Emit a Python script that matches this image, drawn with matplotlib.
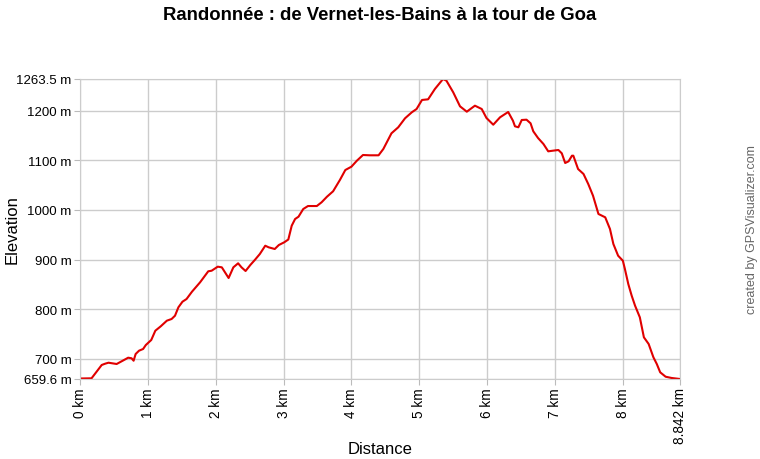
import numpy as np
import matplotlib.pyplot as plt

# profile (km, m)
dist_km = [0.00, 0.17, 0.32, 0.37, 0.42, 0.54, 0.64, 0.71, 0.76, 0.79, 0.82, 0.87, 0.93, 0.97,
           1.05, 1.11, 1.19, 1.28, 1.35, 1.40, 1.45, 1.51, 1.57, 1.65, 1.77, 1.89, 1.94,
           2.03, 2.09, 2.19, 2.26, 2.33, 2.38, 2.44, 2.51, 2.58, 2.65, 2.73, 2.78, 2.87, 2.93,
           3.01, 3.07, 3.12, 3.17, 3.22, 3.29, 3.36, 3.49, 3.56, 3.64, 3.73, 3.83, 3.91,
           4.00, 4.08, 4.17, 4.27, 4.40, 4.47, 4.59, 4.69, 4.79, 4.89, 4.96,
           5.04, 5.13, 5.23, 5.35, 5.40, 5.50, 5.60, 5.70, 5.82, 5.92, 5.99,
           6.09, 6.19, 6.31, 6.38, 6.41, 6.46, 6.51, 6.58, 6.64, 6.68, 6.75, 6.83, 6.90, 6.97,
           7.05, 7.10, 7.15, 7.20, 7.25, 7.27, 7.34, 7.42, 7.49, 7.56, 7.64, 7.74, 7.81, 7.86, 7.93,
           8.00, 8.03, 8.08, 8.13, 8.18, 8.25, 8.31, 8.38, 8.45, 8.50, 8.55, 8.63, 8.72, 8.842]
elev_m = [660.6, 661.0, 687.8, 690.4, 692.4, 689.8, 697.2, 702.5, 701.3, 696.4, 709.9, 716.6, 720.0, 728.0,
          738.1, 756.8, 765.7, 777.0, 780.4, 787.0, 803.9, 815.2, 820.6, 835.3, 854.3, 876.4, 877.6,
          885.7, 884.4, 862.9, 884.4, 892.5, 884.4, 877.0, 889.1, 899.8, 911.2, 927.9, 924.7, 921.3, 929.3,
          934.8, 940.4, 968.2, 981.7, 986.3, 1001.8, 1007.8, 1007.8, 1015.3, 1026.6, 1037.5, 1060.2, 1080.3,
          1087.0, 1099.0, 1110.5, 1109.9, 1109.9, 1122.6, 1154.2, 1166.3, 1184.4, 1196.5, 1203.1,
          1221.3, 1222.6, 1243.4, 1263.5, 1260.1, 1236.7, 1208.5, 1197.7, 1209.8, 1203.1, 1185.0,
          1171.5, 1186.4, 1197.1, 1179.6, 1168.3, 1166.3, 1181.0, 1181.6, 1174.3, 1158.2, 1144.7, 1132.6, 1117.9, 1119.2,
          1120.6, 1113.9, 1094.4, 1097.8, 1109.1, 1109.1, 1082.3, 1072.3, 1052.1, 1028.6, 991.8, 985.1, 961.6, 931.4, 907.8,
          897.7, 881.0, 850.8, 827.3, 807.1, 783.8, 743.5, 730.1, 703.3, 689.8, 673.1, 664.2, 661.6, 659.6]

y_ticks = [659.6, 700, 800, 900, 1000, 1100, 1200, 1263.5]
y_labels = ["659.6 m", "700 m", "800 m", "900 m", "1000 m", "1100 m", "1200 m", "1263.5 m"]
x_ticks = [0, 1, 2, 3, 4, 5, 6, 7, 8, 8.842]
x_labels = ["0 km", "1 km", "2 km", "3 km", "4 km", "5 km", "6 km", "7 km", "8 km", "8.842 km"]

plt.rcParams['font.family'] = ['Liberation Sans', 'DejaVu Sans']

fig = plt.figure(figsize=(7.6, 4.6), dpi=100)
ax = fig.add_axes([80 / 760, 1 - 380 / 460, 600 / 760, 300 / 460])

ax.plot(dist_km, elev_m, color='#e00000', linewidth=1.5)
ax.set_xlim(0, 8.842)
ax.set_ylim(659.6, 1263.5)

ax.set_yticks(y_ticks)
ax.set_yticklabels(y_labels, fontsize=9.5)
ax.set_xticks(x_ticks)
ax.set_xticklabels(x_labels, fontsize=9.8, rotation=90)
ax.tick_params(axis='both', length=4, color='#bbbbbb', pad=2)
ax.grid(True, color='#cccccc', linewidth=1)
ax.set_axisbelow(True)
for s in ax.spines.values():
    s.set_color('#cccccc')

# axis titles placed by hand so they stay inside the canvas
fig.text(380 / 760, 1 - 450 / 460, 'Distance', ha='center', va='center', fontsize=12)
fig.text(12 / 760, 1 - 230 / 460, 'Elevation', rotation=90, ha='center', va='center', fontsize=12)
fig.text(0.5, 1 - 15 / 460, 'Randonnée : de Vernet-les-Bains à la tour de Goa',
         ha='center', va='center', fontsize=13.3, fontweight='bold')
fig.text(752 / 760, 1 - 230 / 460, 'created by GPSVisualizer.com', rotation=90,
         ha='center', va='center', fontsize=9, color='#666666')

fig.savefig('out.png', dpi=100)
